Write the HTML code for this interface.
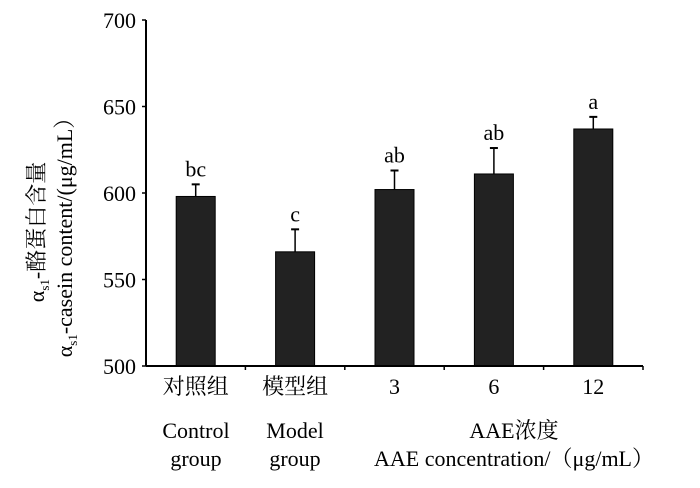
<!DOCTYPE html>
<html><head><meta charset="utf-8"><style>
body{margin:0;background:#fff;}
svg text{font-family:"Liberation Serif","Noto Serif CJK SC",serif;fill:#000;}
</style></head><body>
<svg width="700" height="483" xmlns="http://www.w3.org/2000/svg">
<g id="plot"></g>
<g id="ytitle">
<text transform="translate(44,232) rotate(-90)" text-anchor="middle" font-size="22">α<tspan font-size="13" dy="5">s1</tspan><tspan dy="-5">-酪蛋白含量</tspan></text>
<text transform="translate(72,232) rotate(-90)" text-anchor="middle" font-size="22">α<tspan font-size="13" dy="5">s1</tspan><tspan dy="-5">-casein content/(μg/mL）</tspan></text>
</g>
<text x="196" y="438" text-anchor="middle" font-size="22">Control</text>
<text x="196" y="466" text-anchor="middle" font-size="22">group</text>
<text x="295" y="438" text-anchor="middle" font-size="22">Model</text>
<text x="295" y="466" text-anchor="middle" font-size="22">group</text>
<text x="514" y="438" text-anchor="middle" font-size="22">AAE浓度</text>
<text x="514" y="466" text-anchor="middle" font-size="22">AAE concentration/（μg/mL）</text>
</svg>
<script>
const categories=["对照组","模型组","3","6","12"];
const values=[598,566,602,611,637];
const errors=[7,13,11,15,7];
const letters=["bc","c","ab","ab","a"];
const yTicks=[500,550,600,650,700];
const x0=146,x1=643,yTop=20,yBot=366,yMin=500,yMax=700;
const ns="http://www.w3.org/2000/svg";
const g=document.getElementById("plot");
function ys(v){return yBot-(v-yMin)/(yMax-yMin)*(yBot-yTop);}
const slot=(x1-x0)/categories.length;
function xs(i){return x0+slot*(i+0.5);}
function mk(t,a){const e=document.createElementNS(ns,t);for(const k in a)e.setAttribute(k,a[k]);g.appendChild(e);return e;}
yTicks.forEach(t=>{
 const l=mk("line",{x1:x0-4,x2:x0,y1:ys(t),y2:ys(t),stroke:"#000","stroke-width":1.5});
 
 
 const tx=mk("text",{x:x0-10,y:ys(t)+8,"text-anchor":"end","font-size":22});
 tx.textContent=t;
 
 
});
categories.forEach((c,i)=>{
 const cx=xs(i),bw=39;
 const r=mk("rect",{x:cx-bw/2,y:ys(values[i]),width:bw,height:yBot-ys(values[i]),fill:"#222",stroke:"#000","stroke-width":1});
 
 
 const e=mk("line",{x1:cx,x2:cx,y1:ys(values[i]),y2:ys(values[i]+errors[i]),stroke:"#000","stroke-width":1.5});
 
 
 const ec=mk("line",{x1:cx-4,x2:cx+4,y1:ys(values[i]+errors[i]),y2:ys(values[i]+errors[i]),stroke:"#000","stroke-width":2});
 
 
 const lt=mk("text",{x:cx,y:ys(values[i]+errors[i])-8,"text-anchor":"middle","font-size":22});
 lt.textContent=letters[i];
 
 
 const cl=mk("text",{x:cx,y:yBot+28,"text-anchor":"middle","font-size":22});
 cl.textContent=c;
 
 
 const tk=mk("line",{x1:x0+slot*(i+1),x2:x0+slot*(i+1),y1:yBot,y2:yBot+4,stroke:"#000","stroke-width":1.5});
 
 
});
const ya=mk("line",{x1:x0,x2:x0,y1:yTop,y2:yBot,stroke:"#000","stroke-width":2});


const xa=mk("line",{x1:x0,x2:x1,y1:yBot,y2:yBot,stroke:"#000","stroke-width":2});


</script>
</body></html>
